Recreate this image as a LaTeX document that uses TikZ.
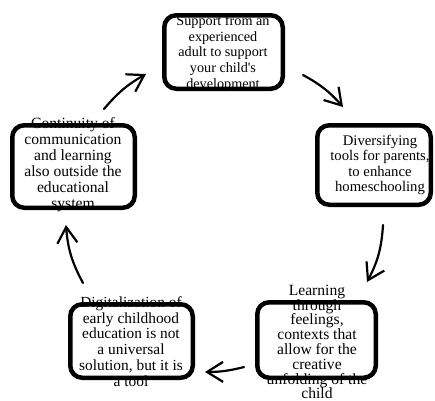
\documentclass[tikz,border=0pt]{standalone}
\usepackage{fontspec}
\setmainfont{Liberation Serif}
\usetikzlibrary{arrows.meta}
\begin{document}
\begin{tikzpicture}[x=1pt,y=-1pt,
  boxshape/.style={draw=black, line width=4.5pt, rounded corners=12pt, inner sep=0pt},
  boxtext/.style={align=center, inner sep=0pt, text=black},
  cyc/.style={line width=2.2pt, line cap=round, line join=round, -{Straight Barb[length=16pt,width=20pt]}}]
\useasboundingbox (0,0) rectangle (435,400);
% texts
\node[boxtext, font=\fontsize{14.2}{15.7}\selectfont] (t1) at (223,53.5) {Support from an\\experienced\\adult to support\\your child\textquotesingle s\\development};
\node[boxtext, font=\fontsize{14.7}{15.3}\selectfont] (t2) at (380,165) {Diversifying\\tools for parents,\\to enhance\\homeschooling};
\node[boxtext, font=\fontsize{15.6}{14.8}\selectfont] (t3) at (317,342) {Learning\\through\\feelings,\\contexts that\\allow for the\\creative\\unfolding of the\\child};
\node[boxtext, font=\fontsize{15.4}{15.8}\selectfont] (t4) at (131,341.5) {Digitalization of\\early childhood\\education is not\\a universal\\solution, but it is\\a tool};
\node[boxtext, font=\fontsize{15.6}{16}\selectfont] (t5) at (73,164.5) {Continuity of\\communication\\and learning\\also outside the\\educational\\system};
% boxes
\node[boxshape, minimum width=118.5pt, minimum height=73.5pt] (b1) at (223.5,52) {};
\node[boxshape, minimum width=113.5pt, minimum height=79.5pt] (b2) at (374,165) {};
\node[boxshape, minimum width=118.5pt, minimum height=75.5pt] (b3) at (316.5,340) {};
\node[boxshape, minimum width=122.5pt, minimum height=73.5pt] (b4) at (131.5,341) {};
\node[boxshape, minimum width=122.5pt, minimum height=82.5pt] (b5) at (73.5,166.5) {};
% arrow ends
\coordinate (a1s) at (303,75);  \coordinate (a1e) at (343,107);
\coordinate (a2s) at (383,225); \coordinate (a2e) at (367,282);
\coordinate (a3s) at (244,367); \coordinate (a3e) at (205,372);
\coordinate (a4s) at (83,283);  \coordinate (a4e) at (66,225);
\coordinate (a5s) at (104,109); \coordinate (a5e) at (146,74);
\draw[cyc] (a1s) to[bend left=10] (a1e);
\draw[cyc] (a2s) to[bend left=12] (a2e);
\draw[cyc] (a3s) to[bend left=7] (a3e);
\draw[cyc] (a4s) to[bend left=12] (a4e);
\draw[cyc] (a5s) to[bend left=10] (a5e);
\end{tikzpicture}
\end{document}
